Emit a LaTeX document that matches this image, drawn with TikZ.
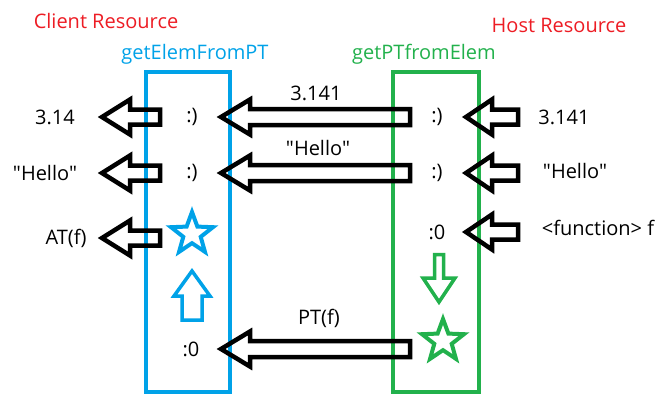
\documentclass[tikz,border=0pt]{standalone}
\usepackage{fontspec}
\setmainfont{Open Sans}[Ligatures=TeXOff]
\usetikzlibrary{positioning, calc, shapes.geometric}
\definecolor{clientblue}{HTML}{00A2E8}
\definecolor{hostgreen}{HTML}{22B14C}
\definecolor{resred}{HTML}{ED1C24}
\tikzstyle{resource}=[rectangle, draw, line width=4.5pt, minimum width=84pt, minimum height=320pt]
\tikzstyle{value}=[font=\fontsize{20}{24}\selectfont, inner sep=2pt]
\tikzstyle{title}=[font=\fontsize{20}{24}\selectfont, text=resred]
\tikzstyle{marker}=[star, star points=5, star point ratio=2.4, minimum size=44pt, inner sep=0pt, line width=4pt]
\tikzstyle{transfer}=[line width=4.5pt, draw=black, line join=miter]
\tikzstyle{convert}=[line width=3.5pt, line join=miter]
% hollow block arrow: style, from, to, shaft half width, head half width, head length
\newcommand{\blockarrow}[6][transfer]{
    \draw[#1] let \p1=#2, \p2=#3, \n1={atan2(\y2-\y1,\x2-\x1)}, \n2={veclen(\x2-\x1,\y2-\y1)} in
        [shift={(\p1)}, rotate=\n1] (0pt,-#4) -- (\n2-#6,-#4) -- (\n2-#6,-#5) -- (\n2,0pt)
        -- (\n2-#6,#5) -- (\n2-#6,#4) -- (0pt,#4) -- cycle;
}

\begin{document}
\begin{tikzpicture}[x=1pt, y=-1pt]
        \useasboundingbox (0,0) rectangle (670,413);
        % Draw the resources
        \node[title] (client title) at (106,21) {Client Resource};
        \node[title] (host title) at (559,25) {Host Resource};
        \node[resource, draw=clientblue] (client) at (188,232) {};
        \node[resource, draw=hostgreen, minimum width=86pt] (host) at (436,232) {};
        \node[value, text=clientblue] (client fn) at (195,54) {getElemFromPT};
        \node[value, text=hostgreen] (host fn) at (424,54) {getPTfromElem};

        % values outside
        \node[value] (lval1) at (55,117) {3.14};
        \node[value] (lval2) at (45,173) {"Hello"};
        \node[value] (lval3) at (66,238) {AT(f)};
        \node[value] (rval1) at (564,117) {3.141};
        \node[value] (rval2) at (575,171) {"Hello"};
        \node[value] (rval3) at (598,228) {<function> f};

        % inside the client
        \node[value] (csmile1) at (192,117) {:)};
        \node[value] (csmile2) at (192,173) {:)};
        \node[marker, draw=clientblue] (cstar) at (192,234) {};
        \node[value] (czero) at (191,349) {:0};

        % inside the host
        \node[value] (hsmile1) at (437,117) {:)};
        \node[value] (hsmile2) at (437,173) {:)};
        \node[value] (hzero) at (437,232) {:0};
        \node[marker, draw=hostgreen] (hstar) at (443,341) {};

        % transfer labels
        \node[value] (tr1) at (316,93) {3.141};
        \node[value] (tr2) at (318,148) {"Hello"};
        \node[value] (tr3) at (319,318) {PT(f)};

        % client to outside
        \blockarrow{($(csmile1.center)+(-32,0)$)}{($(lval1.center)+(47,0)$)}{7.5pt}{17.5pt}{28pt}
        \blockarrow{($(csmile2.center)+(-32,0)$)}{($(lval2.center)+(57,0)$)}{7.5pt}{17.5pt}{28pt}
        \blockarrow{($(lval3.center -| cstar.center)+(-32,0)$)}{($(lval3.center)+(36,0)$)}{7.5pt}{17.5pt}{28pt}

        % host to client
        \blockarrow{($(hsmile1.center)+(-27,0)$)}{($(csmile1.center)+(29,0)$)}{8pt}{17.5pt}{29pt}
        \blockarrow{($(hsmile2.center)+(-27,0)$)}{($(csmile2.center)+(29,0)$)}{8pt}{17.5pt}{29pt}
        \blockarrow{($(czero.center -| hstar.center)+(-33,0)$)}{($(czero.center)+(30,0)$)}{8pt}{17.5pt}{29pt}

        % outside to host
        \blockarrow{($(rval1.center)+(-46,0)$)}{($(hsmile1.center)+(29,0)$)}{7.5pt}{17.5pt}{26pt}
        \blockarrow{($(hsmile2.center -| rval2.center)+(-57,0)$)}{($(hsmile2.center)+(29,0)$)}{7.5pt}{17.5pt}{26pt}
        \blockarrow{($(hzero.center -| rval3.center)+(-80,0)$)}{($(hzero.center)+(29,0)$)}{7.5pt}{17.5pt}{26pt}

        % converting inside the resources
        \blockarrow[convert, draw=clientblue]{($(czero.center -| cstar.center)+(0,-29)$)}{($(cstar.center)+(0,37)$)}{10pt}{18pt}{25pt}
        \blockarrow[convert, draw=hostgreen]{($(hzero.center)+(2,22.5)$)}{($(hstar.center)+(-4,-39)$)}{4.5pt}{16pt}{24pt}
\end{tikzpicture}
\end{document}
